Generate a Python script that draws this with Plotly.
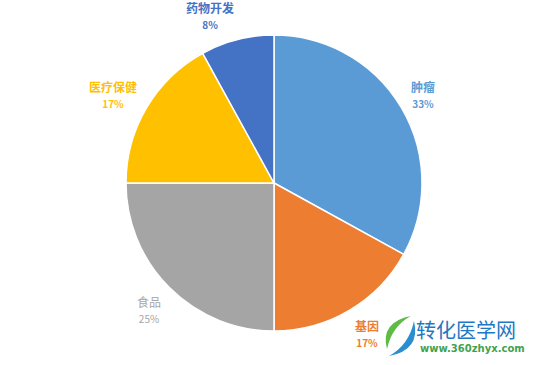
import math
import plotly.graph_objects as go

categories = ["肿瘤", "基因", "食品", "医疗保健", "药物开发"]
values = [33, 17, 25, 17, 8]
colors = ["#5B9BD5", "#ED7D31", "#A5A5A5", "#FFC000", "#4472C4"]
bold_label = [True, True, False, True, True]

W, H = 550, 365
cx, cy, R = 274, 183, 148


def X(px):
    return px / W


def Y(py):
    return 1 - py / H


fig = go.Figure(go.Pie(
    labels=categories, values=values, sort=False, direction="clockwise",
    rotation=0, marker=dict(colors=colors, line=dict(color="white", width=1.5)),
    textinfo="none", hoverinfo="skip", showlegend=False,
    domain=dict(x=[X(cx - R), X(cx + R)], y=[Y(cy + R), Y(cy - R)]),
))

total = sum(values)
cum = 0
font = "Noto Sans CJK SC, Microsoft YaHei, sans-serif"
for cat, v, col, b in zip(categories, values, colors, bold_label):
    mid = (cum + v / 2) / total * 2 * math.pi
    cum += v
    r = R + 10
    s, c = math.sin(mid), math.cos(mid)
    px = cx + r * s
    py = cy - r * c
    xa = "left" if s > 0 else "right"
    if c > 0:
        py_c = py - 15 * abs(c)
    else:
        py_c = py + 15
    pct = f"{round(v / total * 100)}%"
    name = f"<b>{cat}</b>" if b else cat
    pcts = f"<b>{pct}</b>" if b else pct
    fig.add_annotation(
        x=X(px), y=Y(py_c), xref="paper", yref="paper",
        xanchor=xa, yanchor="middle", showarrow=False, align="center", borderpad=0,
        text=f"{name}<br><span style='font-size:10px'>{pcts}</span>",
        font=dict(family=font, size=12, color=col),
    )

# watermark logo
def path(pts):
    out = []
    for cmd, *xy in pts:
        conv = []
        for i in range(0, len(xy), 2):
            conv.append(f"{X(xy[i]):.5f},{Y(xy[i + 1]):.5f}")
        out.append(cmd + " " + " ".join(conv))
    return " ".join(out) + " Z"

green = path([("M", 387, 349), ("Q", 380, 322, 411, 316), ("Q", 392, 326, 387, 349)])
blue = path([("M", 414, 321), ("Q", 421, 350, 389, 356), ("Q", 409, 345, 414, 321)])
fig.add_shape(type="path", xref="paper", yref="paper", path=green,
              fillcolor="#5DBB46", line=dict(width=0))
fig.add_shape(type="path", xref="paper", yref="paper", path=blue,
              fillcolor="#2A8FD0", line=dict(width=0))

fig.add_annotation(x=X(415), y=Y(329), xref="paper", yref="paper", borderpad=0,
                   xanchor="left", yanchor="middle", showarrow=False, text="转化医学网",
                   font=dict(family=font, size=20, color="#1F78C1"))
fig.add_annotation(x=X(419), y=Y(348), xref="paper", yref="paper", borderpad=0,
                   xanchor="left", yanchor="middle", showarrow=False,
                   text="<b>www.360zhyx.com</b>",
                   font=dict(family="DejaVu Sans, sans-serif", size=10, color="#3FA34D"))

fig.update_layout(width=W, height=H, margin=dict(l=0, r=0, t=0, b=0),
                  paper_bgcolor="white", plot_bgcolor="white")
fig.write_html("out.html", config={"displayModeBar": False},
               post_script="document.body.style.margin='0';")
